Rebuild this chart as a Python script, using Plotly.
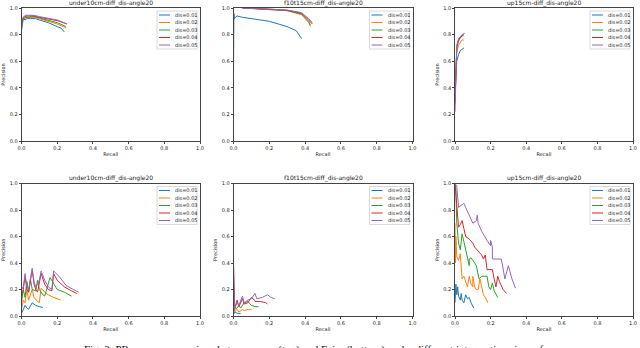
"""
PR curves, six panels (matplotlib-like look) with Plotly
"""

import plotly.graph_objects as go

# ---- data ----
labels = ["dis=0.01", "dis=0.02", "dis=0.03", "dis=0.04", "dis=0.05"]
colors = ["#1f77b4", "#ff7f0e", "#2ca02c", "#d62728", "#9467bd"]
titles = ["under10cm-diff_dis-angle20", "f10t15cm-diff_dis-angle20", "up15cm-diff_dis-angle20",
          "under10cm-diff_dis-angle20", "f10t15cm-diff_dis-angle20", "up15cm-diff_dis-angle20"]

# top left
p1_recall = [
    [0, 0.005, 0.01, 0.02, 0.03, 0.05, 0.08, 0.1, 0.15, 0.2, 0.22, 0.24],
    [0, 0.01, 0.03, 0.07, 0.1, 0.15, 0.2, 0.25],
    [0, 0.01, 0.03, 0.07, 0.1, 0.15, 0.2, 0.25],
    [0, 0.01, 0.03, 0.07, 0.1, 0.15, 0.2, 0.255],
    [0, 0.01, 0.02, 0.07, 0.1, 0.15, 0.2, 0.255],
]
p1_prec = [
    [0.83, 0.90, 0.92, 0.91, 0.92, 0.92, 0.92, 0.91, 0.89, 0.86, 0.85, 0.82],
    [0.86, 0.92, 0.93, 0.93, 0.92, 0.90, 0.88, 0.85],
    [0.87, 0.92, 0.93, 0.935, 0.925, 0.91, 0.89, 0.86],
    [0.88, 0.93, 0.94, 0.94, 0.93, 0.92, 0.905, 0.88],
    [0.88, 0.93, 0.945, 0.945, 0.935, 0.925, 0.91, 0.88],
]

# top middle
p2_recall = [
    [0, 0.002, 0.005, 0.01, 0.02, 0.05, 0.1, 0.15, 0.2, 0.25, 0.3, 0.35, 0.38],
    [0.05, 0.1, 0.2, 0.3, 0.38, 0.42, 0.43],
    [0.05, 0.1, 0.2, 0.3, 0.38, 0.42, 0.43],
    [0.05, 0.1, 0.2, 0.3, 0.38, 0.42, 0.44],
    [0.05, 0.1, 0.2, 0.3, 0.38, 0.42, 0.44],
]
p2_prec = [
    [0.5, 0.96, 0.92, 0.93, 0.94, 0.93, 0.92, 0.91, 0.90, 0.88, 0.86, 0.83, 0.77],
    [1.0, 0.995, 0.99, 0.98, 0.95, 0.89, 0.86],
    [1.0, 0.995, 0.99, 0.98, 0.955, 0.90, 0.87],
    [1.0, 0.998, 0.992, 0.983, 0.96, 0.91, 0.88],
    [1.0, 0.998, 0.993, 0.985, 0.965, 0.92, 0.89],
]

# top right
p3_recall = [
    [0, 0.005, 0.01, 0.02, 0.03, 0.04, 0.05],
    [0, 0.005, 0.01, 0.02, 0.03, 0.04, 0.05],
    [0, 0.005, 0.01, 0.02, 0.03, 0.04, 0.05],
    [0, 0.005, 0.01, 0.02, 0.03, 0.04, 0.05],
    [0, 0.005, 0.01, 0.02, 0.03, 0.04, 0.055],
]
p3_prec = [
    [0.37, 0.55, 0.60, 0.65, 0.68, 0.69, 0.70],
    [0.40, 0.60, 0.67, 0.72, 0.74, 0.76, 0.76],
    [0.30, 0.62, 0.70, 0.75, 0.78, 0.79, 0.80],
    [0.28, 0.63, 0.71, 0.76, 0.78, 0.79, 0.80],
    [0.22, 0.65, 0.72, 0.77, 0.79, 0.80, 0.81],
]

# bottom left
p4_recall = [
    [0, 0.01, 0.02, 0.03, 0.04, 0.06, 0.08, 0.1, 0.12],
    [0, 0.01, 0.02, 0.03, 0.04, 0.06, 0.07, 0.08, 0.09, 0.1, 0.11, 0.13, 0.15, 0.18, 0.22],
    [0, 0.01, 0.02, 0.03, 0.04, 0.05, 0.06, 0.08, 0.09, 0.1, 0.12, 0.13, 0.16, 0.18, 0.2, 0.24, 0.28],
    [0, 0.01, 0.02, 0.03, 0.04, 0.06, 0.07, 0.08, 0.09, 0.11, 0.13, 0.15, 0.17, 0.18, 0.2, 0.24, 0.28, 0.31],
    [0, 0.01, 0.02, 0.03, 0.04, 0.06, 0.07, 0.08, 0.1, 0.11, 0.13, 0.15, 0.17, 0.18, 0.21, 0.25, 0.29, 0.32],
]
p4_prec = [
    [0.02, 0.05, 0.08, 0.06, 0.05, 0.10, 0.08, 0.07, 0.065],
    [0.05, 0.12, 0.10, 0.20, 0.12, 0.20, 0.14, 0.12, 0.11, 0.10, 0.21, 0.18, 0.16, 0.14, 0.12],
    [0.10, 0.20, 0.14, 0.26, 0.18, 0.28, 0.20, 0.19, 0.27, 0.20, 0.16, 0.15, 0.29, 0.24, 0.20, 0.18, 0.15],
    [0.15, 0.20, 0.30, 0.20, 0.18, 0.35, 0.24, 0.20, 0.18, 0.32, 0.24, 0.20, 0.19, 0.32, 0.27, 0.22, 0.19, 0.17],
    [0.20, 0.22, 0.32, 0.22, 0.20, 0.36, 0.26, 0.22, 0.27, 0.34, 0.27, 0.22, 0.20, 0.34, 0.30, 0.23, 0.20, 0.18],
]

# bottom middle
p5_recall = [
    [0, 0.005, 0.01, 0.02, 0.04],
    [0, 0.005, 0.02, 0.03, 0.05, 0.06, 0.08, 0.1],
    [0, 0.005, 0.02, 0.03, 0.04, 0.06, 0.08, 0.1, 0.12, 0.14],
    [0, 0.005, 0.02, 0.03, 0.05, 0.06, 0.08, 0.1, 0.11, 0.12, 0.15, 0.18, 0.19],
    [0, 0.005, 0.02, 0.03, 0.05, 0.06, 0.08, 0.1, 0.12, 0.13, 0.16, 0.19, 0.21, 0.23],
]
p5_prec = [
    [0.30, 0.02, 0.03, 0.02, 0.02],
    [0.20, 0.03, 0.05, 0.03, 0.05, 0.04, 0.05, 0.05],
    [0.30, 0.05, 0.06, 0.08, 0.06, 0.10, 0.11, 0.08, 0.07, 0.07],
    [0.40, 0.05, 0.12, 0.07, 0.13, 0.09, 0.10, 0.14, 0.13, 0.11, 0.11, 0.10, 0.09],
    [0.40, 0.05, 0.10, 0.08, 0.15, 0.10, 0.12, 0.13, 0.17, 0.13, 0.14, 0.16, 0.14, 0.13],
]

# bottom right
p6_recall = [
    [0, 0.002, 0.005, 0.01, 0.015, 0.02, 0.03, 0.035, 0.04, 0.05, 0.06, 0.07, 0.08, 0.09, 0.1, 0.105],
    [0, 0.003, 0.005, 0.01, 0.02, 0.03, 0.035, 0.04, 0.05, 0.06, 0.07, 0.08, 0.09, 0.1, 0.1,
     0.11, 0.12, 0.13, 0.14, 0.15, 0.16, 0.17, 0.18, 0.185],
    [0, 0.005, 0.01, 0.015, 0.02, 0.03, 0.04, 0.05, 0.06, 0.07, 0.08, 0.08, 0.09, 0.1, 0.12,
     0.135, 0.15, 0.18, 0.19, 0.2, 0.21, 0.22, 0.23, 0.24],
    [0, 0.01, 0.02, 0.03, 0.04, 0.05, 0.06, 0.08, 0.1, 0.11, 0.13, 0.15, 0.16, 0.17, 0.18,
     0.2, 0.21, 0.22, 0.23, 0.24, 0.25, 0.27, 0.29],
    [0, 0.01, 0.02, 0.03, 0.05, 0.06, 0.09, 0.1, 0.12, 0.125, 0.13, 0.15, 0.18, 0.2, 0.2,
     0.21, 0.21, 0.24, 0.26, 0.27, 0.28, 0.3, 0.32, 0.34],
]
p6_prec = [
    [0.10, 0.20, 0.24, 0.16, 0.22, 0.15, 0.12, 0.17, 0.12, 0.10, 0.16, 0.13, 0.14, 0.10, 0.07, 0.06],
    [0.70, 0.40, 0.60, 0.45, 0.42, 0.47, 0.38, 0.28, 0.30, 0.25, 0.22, 0.30, 0.24, 0.22, 0.30,
     0.22, 0.20, 0.20, 0.28, 0.22, 0.16, 0.14, 0.11, 0.10],
    [1.0, 0.95, 0.70, 0.60, 0.55, 0.50, 0.62, 0.56, 0.50, 0.45, 0.38, 0.43, 0.44, 0.42, 0.38,
     0.28, 0.30, 0.30, 0.22, 0.20, 0.25, 0.19, 0.16, 0.14],
    [1.0, 0.85, 0.67, 0.69, 0.72, 0.66, 0.60, 0.58, 0.55, 0.52, 0.49, 0.46, 0.43, 0.46, 0.35,
     0.35, 0.35, 0.28, 0.22, 0.30, 0.26, 0.20, 0.17],
    [1.0, 0.98, 0.82, 0.83, 0.85, 0.82, 0.73, 0.70, 0.72, 0.76, 0.70, 0.64, 0.57, 0.53, 0.57,
     0.52, 0.43, 0.43, 0.43, 0.36, 0.28, 0.38, 0.28, 0.21],
]

panels = [(p1_recall, p1_prec), (p2_recall, p2_prec), (p3_recall, p3_prec),
          (p4_recall, p4_prec), (p5_recall, p5_prec), (p6_recall, p6_prec)]

caption = ("Fig. 2: PR curves comparison between ours (top) and Faiss (bottom) "
           "under different intersection sizes of")

# ---- layout geometry (pixels) ----
W, H = 640, 348
col_x = [(21.5, 200), (233.5, 412.5), (455, 633)]
row_y = [(8, 141), (183.5, 316)]
show_ytitle = [True, False, True, True, True, True]

fig = go.Figure()
axis_font = dict(family="DejaVu Sans", size=5, color="#222")

for i, (rec, prec) in enumerate(panels):
    n = i + 1
    xa = "x" if n == 1 else f"x{n}"
    ya = "y" if n == 1 else f"y{n}"
    for k in range(len(labels)):
        fig.add_trace(go.Scatter(
            x=rec[k], y=prec[k], mode="lines", name=labels[k],
            line=dict(color=colors[k], width=1), showlegend=False,
            xaxis=xa, yaxis=ya
        ))

    r, c = divmod(i, 3)
    x0, x1 = col_x[c]
    yt, yb = row_y[r]
    common = dict(
        range=[0, 1], tickvals=[0, 0.2, 0.4, 0.6, 0.8, 1.0], tickformat=".1f",
        showgrid=False, zeroline=False, showline=True, mirror=True,
        linecolor="#444", linewidth=0.8, ticks="outside", ticklen=2,
        tickwidth=0.8, tickcolor="#444", tickfont=axis_font, automargin=False,
    )
    fig.layout[f"xaxis{n if n > 1 else ''}"] = dict(
        common, domain=[x0 / W, x1 / W], anchor=ya,
        title=dict(text="Recall", font=axis_font, standoff=2),
    )
    fig.layout[f"yaxis{n if n > 1 else ''}"] = dict(
        common, domain=[1 - yb / H, 1 - yt / H], anchor=xa,
        title=dict(text="Precision" if show_ytitle[i] else "", font=axis_font, standoff=3),
    )

    # panel title
    fig.add_annotation(
        text=titles[i], xref=f"{xa} domain", yref=f"{ya} domain", x=0.5, y=1.0,
        xanchor="center", yanchor="bottom", yshift=-1, showarrow=False,
        font=dict(family="DejaVu Sans", size=6, color="#222")
    )

    # matplotlib-style legend box, upper right
    pw, ph = x1 - x0, yb - yt
    fig.add_shape(
        type="rect", xref=f"{xa} domain", yref=f"{ya} domain",
        x0=1 - 43 / pw, x1=1 - 3 / pw, y0=1 - 41 / ph, y1=1 - 3 / ph,
        line=dict(color="#d0d0d0", width=0.8), fillcolor="rgba(255,255,255,0.8)"
    )
    for k, lab in enumerate(labels):
        yy = 1 - (7 + 7.5 * k) / ph
        fig.add_shape(
            type="line", xref=f"{xa} domain", yref=f"{ya} domain",
            x0=1 - 41 / pw, x1=1 - 30 / pw, y0=yy, y1=yy,
            line=dict(color=colors[k], width=1)
        )
        fig.add_annotation(
            text=lab, xref=f"{xa} domain", yref=f"{ya} domain",
            x=1 - 27 / pw, y=yy, xanchor="left", yanchor="middle", showarrow=False,
            font=dict(family="DejaVu Sans", size=5, color="#222")
        )

# figure caption, cut off by the bottom edge as in the source
fig.add_annotation(
    text=caption, xref="paper", yref="paper", x=0.49, y=1 - 341 / H,
    xanchor="center", yanchor="top", showarrow=False,
    font=dict(family="Liberation Serif", size=11, color="#111")
)

fig.update_layout(
    width=W, height=H, margin=dict(l=0, r=0, t=0, b=0),
    paper_bgcolor="white", plot_bgcolor="white", showlegend=False
)

# drop the browser's default body margin so the figure fills the window
fig.write_html("out.html", config={"displayModeBar": False},
               post_script="document.body.style.margin = '0';")
